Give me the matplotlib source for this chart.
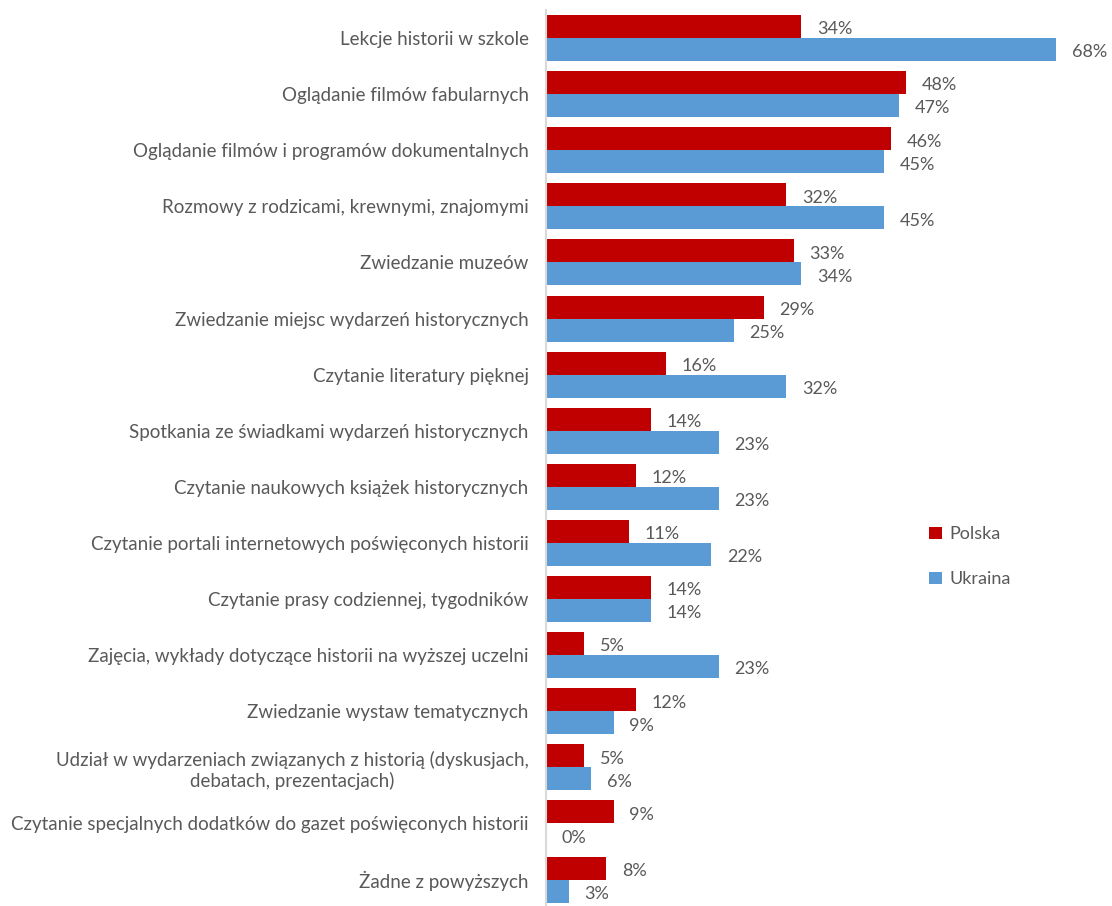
import matplotlib
matplotlib.use("Agg")
import matplotlib.pyplot as plt
import numpy as np

categories = [
    "Lekcje historii w szkole",
    "Oglądanie filmów fabularnych",
    "Oglądanie filmów i programów dokumentalnych",
    "Rozmowy z rodzicami, krewnymi, znajomymi",
    "Zwiedzanie muzeów",
    "Zwiedzanie miejsc wydarzeń historycznych",
    "Czytanie literatury pięknej",
    "Spotkania ze świadkami wydarzeń historycznych",
    "Czytanie naukowych książek historycznych",
    "Czytanie portali internetowych poświęconych historii",
    "Czytanie prasy codziennej, tygodników",
    "Zajęcia, wykłady dotyczące historii na wyższej uczelni",
    "Zwiedzanie wystaw tematycznych",
    "Udział w wydarzeniach związanych z historią (dyskusjach,\ndebatach, prezentacjach)",
    "Czytanie specjalnych dodatków do gazet poświęconych historii",
    "Żadne z powyższych",
]
polska = [34, 48, 46, 32, 33, 29, 16, 14, 12, 11, 14, 5, 12, 5, 9, 8]
ukraina = [68, 47, 45, 45, 34, 25, 32, 23, 23, 22, 14, 23, 9, 6, 0, 3]
series_names = ["Polska", "Ukraina"]
colors = ["#C00000", "#5B9BD5"]

plt.rcParams['font.family'] = ['Lato', 'DejaVu Sans']
text_color = "#595959"

W, H = 1112, 906
fig = plt.figure(figsize=(W / 100, H / 100), dpi=100)
ax_left = 546 / W
ax_top = 10 / H
ax = fig.add_axes([ax_left, 0, 1 - ax_left, 1 - ax_top])

y = np.arange(len(categories))
h = 0.41
ax.barh(y - h / 2, polska, height=h, color=colors[0], label=series_names[0])
ax.barh(y + h / 2, ukraina, height=h, color=colors[1], label=series_names[1])

px_per_unit = 7.5
xmax = (W - 546) / px_per_unit
ax.set_xlim(0, xmax)
ymax = (906 - 38) / 56.1
ax.set_ylim(ymax, -0.5)

off = 16 / px_per_unit
for i, (p, u) in enumerate(zip(polska, ukraina)):
    ax.text(p + off, i - h / 2 + 0.05, f"{p}%", va="center", ha="left",
            fontsize=13, color=text_color)
    ax.text(u + off, i + h / 2 + 0.05, f"{u}%", va="center", ha="left",
            fontsize=13, color=text_color)

ax.set_yticks(y)
ax.set_yticklabels(categories, fontsize=13.5, color=text_color,
                   multialignment="center")
ax.tick_params(axis="y", length=0, pad=12.5)
ax.set_xticks([])
for s in ["top", "right", "bottom"]:
    ax.spines[s].set_visible(False)
ax.spines["left"].set_color("#D9D9D9")
ax.spines["left"].set_linewidth(1.5)

leg = fig.legend(loc="upper left", bbox_to_anchor=(913 / W, 1 - 510 / H),
                 frameon=False, fontsize=13, handlelength=0.7,
                 handleheight=0.7, handletextpad=0.4, labelspacing=1.6)
for t in leg.get_texts():
    t.set_color(text_color)

fig.savefig("out.png", dpi=100)
